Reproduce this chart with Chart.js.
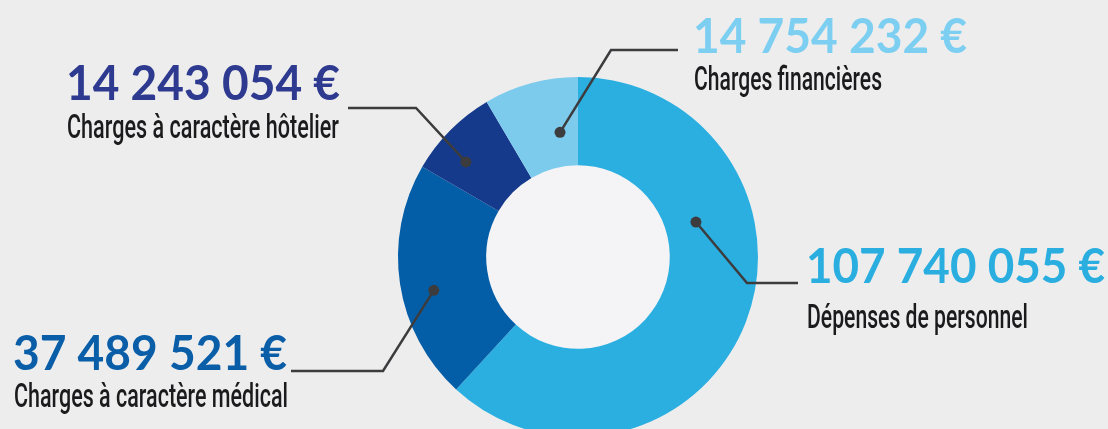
<!DOCTYPE html>
<html>
<head>
<meta charset="utf-8">
<script src="https://cdn.jsdelivr.net/npm/chart.js@4"></script>
<style>
  html, body { margin: 0; padding: 0; background: #ededed; overflow: hidden; width: 1108px; height: 429px; }
  #wrap { width: 1108px; height: 520px; }
</style>
</head>
<body>
<div id="wrap"><canvas id="depensesChart" width="1108" height="520"></canvas></div>
<script>
// Données
const categories = ["Dépenses de personnel", "Charges à caractère médical", "Charges à caractère hôtelier", "Charges financières"];
const values = [107740055, 37489521, 14243054, 14754232];
const sliceColors = ["#2bafe1", "#045ea7", "#153a8b", "#7ccbed"];
const valueColors = ["#2aaee0", "#0a5ea8", "#2e3a8f", "#7dcff2"];

// Placement des étiquettes (nombre, libellé, trait de rappel)
const labelLayout = [
  { x: 806, numBase: 283, numW: 299, labBase: 328, labW: 221, line: [[798, 283], [747, 283]], dotAngle: 73.5, dotR: 123 },
  { x: 13, numBase: 370, numW: 274, labBase: 407, labW: 274, line: [[291, 371], [383, 371]], dotAngle: 257, dotR: 148 },
  { x: 66, numBase: 100, numW: 274, labBase: 138, labW: 272, line: [[348, 108], [416, 108]], dotAngle: 310.3, dotR: 147 },
  { x: 693, numBase: 53, numW: 274, labBase: 90, labW: 188, line: [[678, 50], [611, 50]], dotAngle: 351.8, dotR: 126 }
];

function formatEuro(v) {
  return String(v).replace(/\B(?=(\d{3})+(?!\d))/g, " ") + " €";
}

// texte compressé pour tenir dans la largeur voulue
function fitText(ctx, text, x, y, w, font, color) {
  ctx.save();
  ctx.font = font;
  ctx.fillStyle = color;
  ctx.textBaseline = "alphabetic";
  ctx.textAlign = "left";
  const m = ctx.measureText(text).width;
  ctx.translate(x, y);
  ctx.scale(w / m, 1);
  ctx.fillText(text, 0, 0);
  ctx.restore();
}

const innerCircle = {
  id: "innerCircle",
  beforeDatasetsDraw(chart) {
    const arc = chart.getDatasetMeta(0).data[0];
    const ctx = chart.ctx;
    ctx.save();
    ctx.fillStyle = "#f4f3f5";
    ctx.beginPath();
    ctx.arc(arc.x, arc.y, arc.innerRadius + 1, 0, Math.PI * 2);
    ctx.fill();
    ctx.restore();
  }
};

const calloutLabels = {
  id: "calloutLabels",
  afterDraw(chart) {
    const ctx = chart.ctx;
    const arc = chart.getDatasetMeta(0).data[0];
    const cx = arc.x, cy = arc.y;
    labelLayout.forEach((l, i) => {
      const a = l.dotAngle * Math.PI / 180;
      const dx = cx + l.dotR * Math.sin(a);
      const dy = cy - l.dotR * Math.cos(a);
      // trait
      ctx.save();
      ctx.strokeStyle = "#3c3c3e";
      ctx.lineWidth = 2.5;
      ctx.lineJoin = "miter";
      ctx.beginPath();
      ctx.moveTo(l.line[0][0], l.line[0][1]);
      ctx.lineTo(l.line[1][0], l.line[1][1]);
      ctx.lineTo(dx, dy);
      ctx.stroke();
      ctx.fillStyle = "#3c3c3e";
      ctx.beginPath();
      ctx.arc(dx, dy, 5.5, 0, Math.PI * 2);
      ctx.fill();
      ctx.restore();
      // textes
      fitText(ctx, formatEuro(values[i]), l.x, l.numBase, l.numW, "bold 48px Lato", valueColors[i]);
      fitText(ctx, categories[i], l.x + 1, l.labBase, l.labW, "500 33px Roboto", "#1b1a1c");
    });
  }
};

const ctx = document.getElementById("depensesChart").getContext("2d");
new Chart(ctx, {
  type: "doughnut",
  data: {
    labels: categories,
    datasets: [{
      data: values,
      backgroundColor: sliceColors,
      borderWidth: 0
    }]
  },
  options: {
    responsive: false,
    animation: false,
    cutout: "51%",
    layout: { padding: { top: 77, bottom: 83, left: 398, right: 350 } },
    plugins: {
      legend: { display: false },
      tooltip: { enabled: false }
    }
  },
  plugins: [innerCircle, calloutLabels]
});
</script>
</body>
</html>
